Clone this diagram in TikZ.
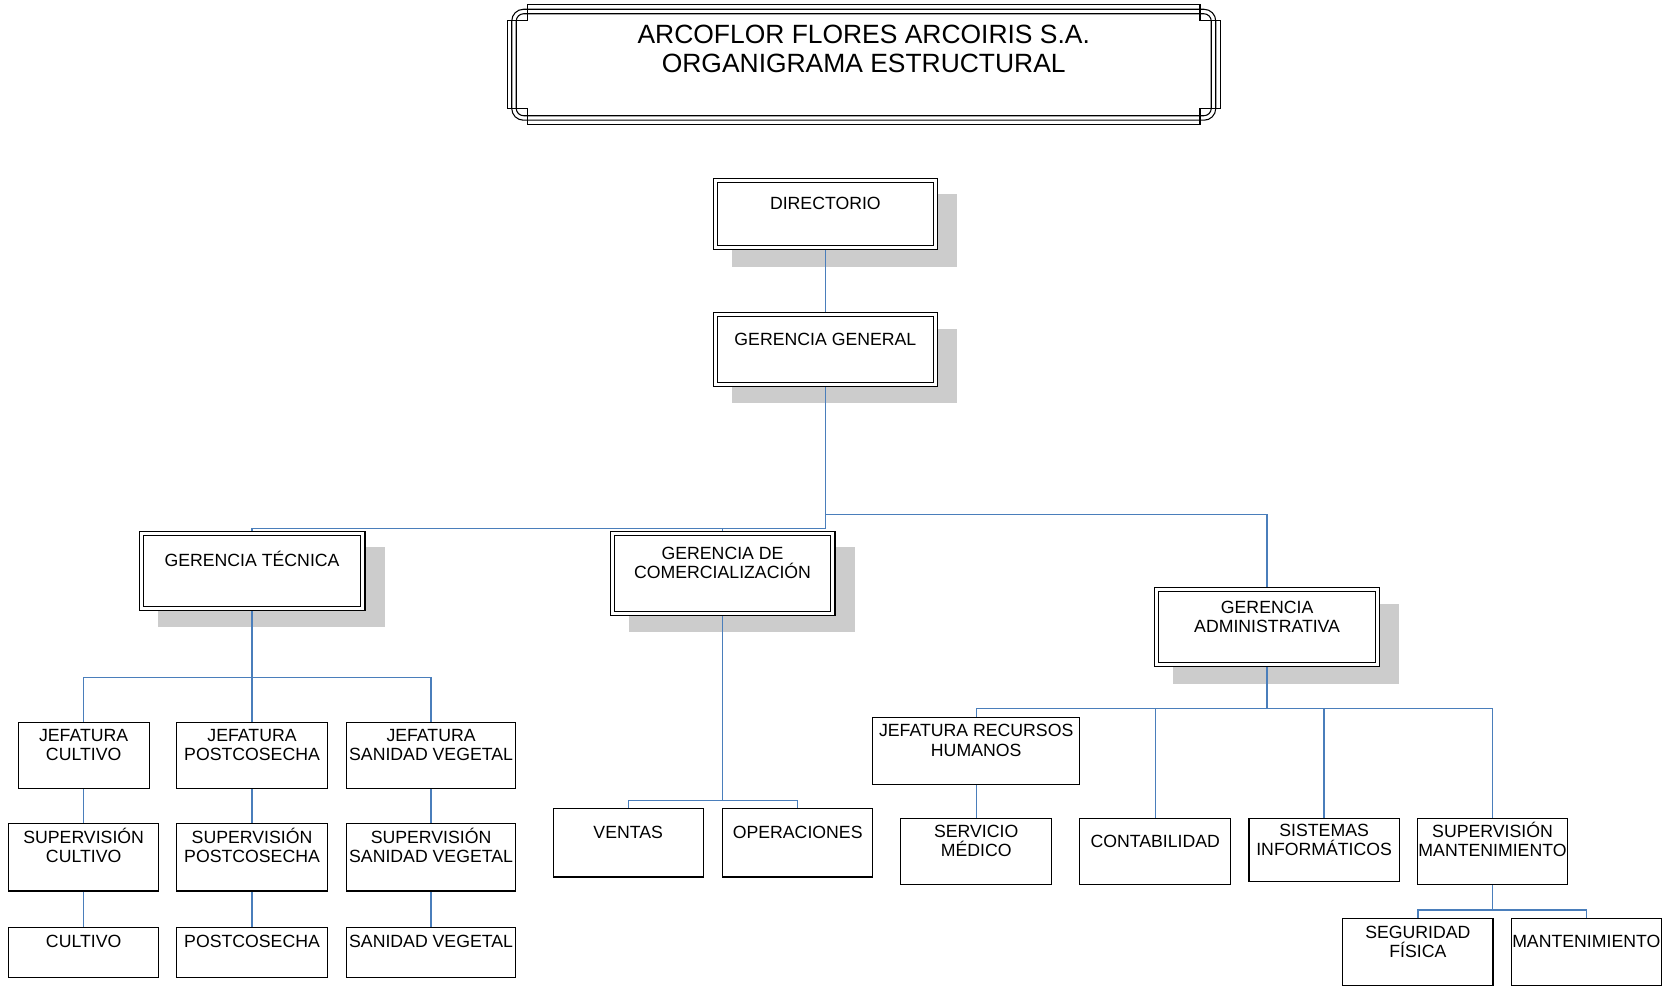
\documentclass[tikz,border=0pt]{standalone}
\usepackage{fontspec}
\setmainfont{Liberation Sans}
\usetikzlibrary{calc,backgrounds}
\definecolor{linkblue}{RGB}{74,126,187}
\definecolor{shadowgray}{RGB}{204,204,204}
\tikzset{
  boxfont/.style={font=\fontsize{16.6}{18}\selectfont},
  onebox/.style={draw=black, line width=1.1pt, fill=white, rectangle, inner sep=0pt, outer sep=0pt,
    align=center, boxfont, text height=12pt, text depth=20pt},
  twolines/.style={text height=30pt, text depth=20pt},
  dblbox/.style={draw=black, line width=1pt, double=white, double distance=2.8pt, fill=white,
    rectangle, inner sep=0pt, outer sep=0pt, align=center, boxfont, text height=12pt, text depth=20pt},
  link/.style={draw=linkblue, line width=1.2pt},
  frameline/.style={draw=black, line width=1pt},
  shadowfill/.style={fill=shadowgray},
}
\begin{document}
\begin{tikzpicture}[x=1pt,y=-1pt]
\useasboundingbox (0,0) rectangle (1568,926);

% title frame
\draw[frameline] (495,4.5) -- (1126,4.5) -- (1126,19.5) -- (1145,19.5) -- (1145,102) -- (1126,102)
  -- (1126,117) -- (495,117) -- (495,102) -- (476,102) -- (476,19.5) -- (495,19.5) -- cycle;
\draw[frameline, rounded corners=11pt] (480.2,8.7) rectangle (1140.8,112.8);
\draw[frameline, rounded corners=7pt] (484.4,12.9) rectangle (1136.6,108.6);
\node[align=center, inner sep=0pt, font=\fontsize{24.8}{27}\selectfont, text height=44.8pt, text depth=0pt]
  (title) at (810.5,45.5) {ARCOFLOR FLORES ARCOIRIS S.A.\\ORGANIGRAMA ESTRUCTURAL};

% double boxes
\node[dblbox, minimum width=206.2pt, minimum height=63.2pt] (dir) at (774.5,201) {DIRECTORIO};
\node[dblbox, minimum width=206.2pt, minimum height=65.2pt] (gg) at (774.5,328) {GERENCIA GENERAL};
\node[dblbox, minimum width=208.2pt, minimum height=70.2pt] (gt) at (236.5,535.5) {GERENCIA TÉCNICA};
\node[dblbox, twolines, minimum width=207.2pt, minimum height=75.2pt] (gc) at (678,538) {GERENCIA DE\\COMERCIALIZACIÓN};
\node[dblbox, twolines, minimum width=207.2pt, minimum height=70.2pt] (ga) at (1189,588.5) {GERENCIA\\ADMINISTRATIVA};

% single boxes
\node[onebox, twolines, minimum width=123pt, minimum height=62pt] (jc) at (78.5,709) {JEFATURA\\CULTIVO};
\node[onebox, twolines, minimum width=141pt, minimum height=62pt] (jp) at (236.5,709) {JEFATURA\\POSTCOSECHA};
\node[onebox, twolines, minimum width=159pt, minimum height=62pt] (js) at (404.5,709) {JEFATURA\\SANIDAD VEGETAL};
\node[onebox, twolines, minimum width=141pt, minimum height=63pt] (sc) at (78.5,804.5) {SUPERVISIÓN\\CULTIVO};
\node[onebox, twolines, minimum width=141pt, minimum height=63pt] (sp) at (236.5,804.5) {SUPERVISIÓN\\POSTCOSECHA};
\node[onebox, twolines, minimum width=159pt, minimum height=63pt] (ss) at (404.5,804.5) {SUPERVISIÓN\\SANIDAD VEGETAL};
\node[onebox, minimum width=141pt, minimum height=47pt] (cu) at (78.5,893.5) {CULTIVO};
\node[onebox, minimum width=141pt, minimum height=47pt] (po) at (236.5,893.5) {POSTCOSECHA};
\node[onebox, minimum width=159pt, minimum height=47pt] (sv) at (404.5,893.5) {SANIDAD VEGETAL};
\node[onebox, minimum width=141pt, minimum height=64pt] (ve) at (589.5,791) {VENTAS};
\node[onebox, minimum width=141pt, minimum height=64pt] (op) at (748.5,791) {OPERACIONES};
\node[onebox, twolines, minimum width=194pt, minimum height=63pt] (rh) at (916,704.5) {JEFATURA RECURSOS\\HUMANOS};
\node[onebox, twolines, minimum width=142pt, minimum height=62pt] (sm) at (916,799) {SERVICIO\\MÉDICO};
\node[onebox, minimum width=142pt, minimum height=62pt] (co) at (1084,799) {CONTABILIDAD};
\node[onebox, twolines, minimum width=141pt, minimum height=59pt] (si) at (1242.5,797.5) {SISTEMAS\\INFORMÁTICOS};
\node[onebox, twolines, minimum width=141pt, minimum height=62pt] (su) at (1400.5,799) {SUPERVISIÓN\\MANTENIMIENTO};
\node[onebox, twolines, minimum width=141pt, minimum height=63pt] (sf) at (1330.5,893.5) {SEGURIDAD\\FÍSICA};
\node[onebox, minimum width=141pt, minimum height=63pt] (ma) at (1488.5,893.5) {MANTENIMIENTO};

\begin{pgfonlayer}{background}
  \fill[white] (0,0) rectangle (1568,926);
  % shadows
  \foreach \n in {dir,gg,gt,gc,ga}{
    \fill[shadowfill] ([shift={(15.6,13.1)}]\n.north west) rectangle ([shift={(20.4,17.9)}]\n.south east);
  }
  % connectors
  \coordinate (b1) at (774.5,496);
  \coordinate (b2) at (774.5,482.5);
  \draw[link] (dir.south) -- (gg.north);
  \draw[link] (gg.south) -- (b1) -| (gt.north);
  \draw[link] (gc.north) -- (gc.north |- b1);
  \draw[link] (b2) -| (ga.north);

  \coordinate (t1) at (236.5,636);
  \draw[link] (gt.south) -- (t1) -- (jp.north);
  \draw[link] (jc.north) |- (t1) -| (js.north);
  \draw[link] (jc.south) -- (sc.north);
  \draw[link] (jp.south) -- (sp.north);
  \draw[link] (js.south) -- (ss.north);
  \draw[link] (sc.south) -- (cu.north);
  \draw[link] (sp.south) -- (po.north);
  \draw[link] (ss.south) -- (sv.north);

  \coordinate (c1) at (678,751);
  \draw[link] (gc.south) -- (c1);
  \draw[link] (ve.north) |- (c1) -| (op.north);

  \coordinate (a1) at (1189,665);
  \draw[link] (ga.south) -- (a1);
  \draw[link] (rh.north) |- (a1) -| (su.north);
  \draw[link] (co.north) -- (co.north |- a1);
  \draw[link] (si.north) -- (si.north |- a1);
  \draw[link] (rh.south) -- (sm.north);

  \coordinate (m1) at (1400.5,854);
  \draw[link] (su.south) -- (m1);
  \draw[link] (sf.north) |- (m1) -| (ma.north);
\end{pgfonlayer}
\end{tikzpicture}
\end{document}
